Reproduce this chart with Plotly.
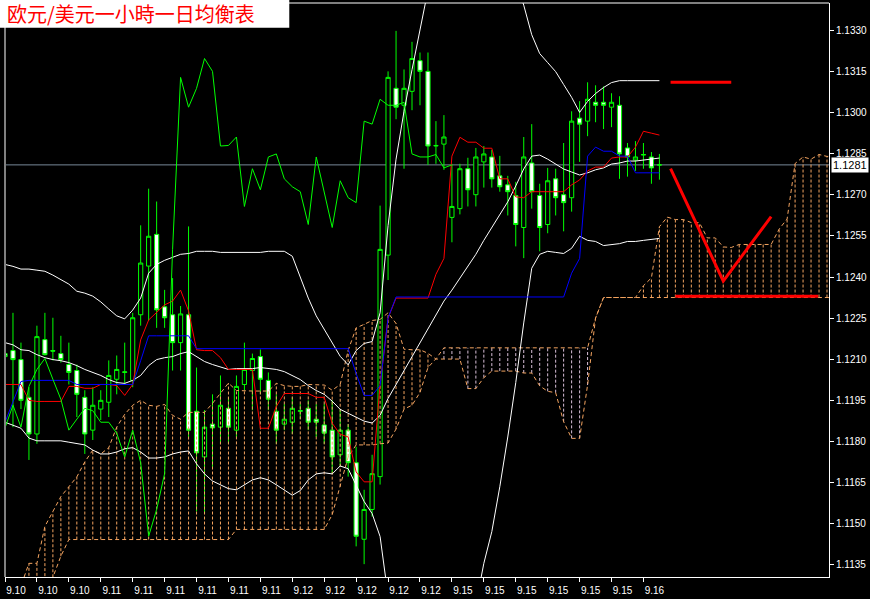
import plotly.graph_objects as go

# ---------------- data (EUR/USD, 1 hour bars) ----------------
open_ = [1.12120,1.12131,1.12098,1.11960,1.11826,1.12171,1.12131,1.12120,1.12080,1.12058,
 1.11960,1.11840,1.11917,1.11942,1.12026,1.12051,1.12022,1.12262,1.12440,1.12556,
 1.12291,1.12262,1.12160,1.12262,1.11909,1.11742,1.11862,1.11851,1.11920,1.11840,
 1.12007,1.12058,1.12109,1.12022,1.11909,1.11862,1.11869,1.11909,1.11920,1.11880,
 1.11859,1.11840,1.11750,1.11840,1.11721,1.11441,1.11550,1.11670,1.12480,1.13090,
 1.13028,1.13079,1.13191,1.13152,1.12879,1.12886,1.12618,1.12650,1.12796,1.12701,
 1.12821,1.12839,1.12770,1.12737,1.12698,1.12581,1.12817,1.12698,1.12592,1.12759,
 1.12701,1.12690,1.12981,1.12970,1.13039,1.13039,1.13021,1.13028,1.12872,1.12828,
 1.12846,1.12839,1.12810]
high = [1.12251,1.12269,1.12160,1.11997,1.12222,1.12269,1.12251,1.12185,1.12160,1.12080,
 1.11986,1.11997,1.11986,1.12095,1.12113,1.12160,1.12269,1.12589,1.12723,1.12676,
 1.12353,1.12396,1.12294,1.12585,1.12069,1.11913,1.11971,1.12040,1.11960,1.12040,
 1.12160,1.12120,1.12135,1.12051,1.11971,1.11935,1.11960,1.11935,1.11949,1.11935,
 1.11935,1.11949,1.11917,1.11862,1.11779,1.11622,1.11750,1.12661,1.13152,1.13300,
 1.13159,1.13260,1.13221,1.13221,1.12970,1.12992,1.12814,1.12814,1.12836,1.12872,
 1.12879,1.12865,1.12843,1.12770,1.12748,1.12912,1.12959,1.12741,1.12799,1.12796,
 1.12890,1.13006,1.13043,1.13112,1.13101,1.13097,1.13072,1.13061,1.12890,1.12897,
 1.12890,1.12857,1.12850]
low = [1.11888,1.11851,1.11917,1.11731,1.11790,1.12113,1.12095,1.12087,1.12007,1.11888,
 1.11753,1.11804,1.11877,1.11888,1.11971,1.12007,1.11997,1.12222,1.12240,1.12214,
 1.12214,1.12058,1.12058,1.11815,1.11543,1.11535,1.11699,1.11790,1.11790,1.11815,
 1.11986,1.11913,1.11971,1.11913,1.11790,1.11840,1.11826,1.11880,1.11840,1.11815,
 1.11790,1.11681,1.11706,1.11670,1.11415,1.11350,1.11524,1.11641,1.12389,1.12977,
 1.12796,1.13010,1.13028,1.12810,1.12814,1.12792,1.12527,1.12629,1.12658,1.12658,
 1.12727,1.12727,1.12712,1.12625,1.12512,1.12469,1.12650,1.12494,1.12560,1.12625,
 1.12567,1.12639,1.12821,1.12915,1.12966,1.12941,1.12948,1.12759,1.12767,1.12788,
 1.12796,1.12741,1.12756]
close = [1.12109,1.12098,1.11949,1.11826,1.12182,1.12116,1.12129,1.12098,1.12051,1.11971,
 1.11826,1.11931,1.11949,1.12040,1.12062,1.12053,1.12251,1.12451,1.12549,1.12280,
 1.12251,1.12160,1.12265,1.11840,1.11757,1.11851,1.11848,1.11931,1.11851,1.12000,
 1.12062,1.12102,1.12026,1.11953,1.11840,1.11880,1.11920,1.11911,1.11869,1.11869,
 1.11829,1.11742,1.11840,1.11721,1.11452,1.11550,1.11681,1.12501,1.13130,1.13021,
 1.13090,1.13199,1.13152,1.12879,1.12881,1.12912,1.12658,1.12796,1.12719,1.12839,
 1.12850,1.12759,1.12730,1.12712,1.12592,1.12839,1.12712,1.12581,1.12752,1.12690,
 1.12672,1.12970,1.12959,1.13050,1.13028,1.13028,1.13039,1.12850,1.12839,1.12839,
 1.12848,1.12799,1.12810]

tenkan = [1.12007,1.12007,1.12007,1.11949,1.11945,1.11945,1.11945,1.11945,1.12000,1.12000,
 1.11993,1.11993,1.12007,1.12007,1.12003,1.11967,1.12007,1.12170,1.12243,1.12269,
 1.12298,1.12312,1.12352,1.12276,1.12134,1.12131,1.12131,1.12105,1.12062,1.12062,
 1.12062,1.12062,1.11847,1.11847,1.11927,1.11974,1.11974,1.11974,1.11974,1.11960,
 1.11960,1.11865,1.11825,1.11815,1.11687,1.11651,1.11651,1.12007,1.12250,1.12323,
 1.12323,1.12323,1.12323,1.12323,1.12410,1.12468,1.12842,1.12911,1.12893,1.12893,
 1.12871,1.12871,1.12759,1.12759,1.12693,1.12690,1.12712,1.12712,1.12712,1.12712,
 1.12712,1.12737,1.12755,1.12788,1.12802,1.12802,1.12835,1.12839,1.12839,1.12875,
 1.12933,1.12926,1.12919]

kijun = [1.11869,1.11942,1.12018,1.12022,1.12022,1.12022,1.12022,1.12022,1.12022,1.12007,
 1.12007,1.12007,1.12007,1.12007,1.12007,1.12007,1.12007,1.12094,1.12185,1.12185,
 1.12185,1.12185,1.12185,1.12185,1.12138,1.12138,1.12138,1.12138,1.12138,1.12138,
 1.12138,1.12138,1.12138,1.12138,1.12138,1.12138,1.12138,1.12138,1.12138,1.12138,
 1.12138,1.12138,1.12138,1.12138,1.12047,1.11967,1.11967,1.12003,1.12250,1.12327,
 1.12327,1.12327,1.12327,1.12327,1.12327,1.12327,1.12327,1.12327,1.12327,1.12327,
 1.12327,1.12327,1.12327,1.12327,1.12327,1.12327,1.12327,1.12327,1.12327,1.12327,
 1.12327,1.12414,1.12468,1.12842,1.12875,1.12860,1.12860,1.12842,1.12842,1.12781,
 1.12781,1.12781,1.12781]

senkou_a = [1.11197,1.11233,1.11270,1.11353,1.11353,1.11488,1.11542,1.11597,1.11633,1.11669,
 1.11724,1.11767,1.11753,1.11776,1.11851,1.11898,1.11931,1.11949,1.11931,1.11927,
 1.11934,1.11894,1.11880,1.11905,1.11905,1.11905,1.11938,1.11974,1.12012,1.11985,
 1.11983,1.11983,1.11983,1.11983,1.12011,1.12003,1.12000,1.12000,1.12007,1.12007,
 1.12005,1.11986,1.12007,1.12132,1.12214,1.12227,1.12241,1.12245,1.12269,1.12230,
 1.12136,1.12134,1.12134,1.12121,1.12100,1.12100,1.12100,1.12100,1.11992,1.11992,
 1.12032,1.12056,1.12056,1.12056,1.12056,1.12049,1.12049,1.12002,1.11982,1.11977,
 1.11871,1.11810,1.11810,1.12005,1.12250,1.12325,1.12325,1.12325,1.12325,1.12325,
 1.12368,1.12397,1.12584,1.12619,1.12610,1.12610,1.12599,1.12599,1.12543,1.12543,
 1.12510,1.12508,1.12519,1.12519,1.12519,1.12519,1.12519,1.12575,1.12612,1.12815,
 1.12839,1.12831,1.12848,1.12841,1.12841,1.12828,1.12857,1.12853,1.12850]

senkou_b = ([1.11161] * 5 + [1.11233, 1.11302, 1.11379] + [1.11440] * 21 + [1.11477] * 12
            + [1.11531, 1.11633, 1.11742, 1.11786, 1.11786, 1.11786, 1.11790, 1.11793,
               1.11844, 1.11917, 1.11931, 1.11978, 1.12069, 1.12101]
            + [1.12141] * 19 + [1.12250] + [1.12325] * 34)

bb_upper = [1.12446,1.12439,1.12429,1.12429,1.12425,1.12421,1.12407,1.12392,1.12374,1.12348,
 1.12341,1.12330,1.12309,1.12283,1.12258,1.12247,1.12279,1.12323,1.12414,1.12446,
 1.12461,1.12472,1.12483,1.12486,1.12494,1.12494,1.12494,1.12490,1.12490,1.12490,
 1.12490,1.12490,1.12490,1.12494,1.12494,1.12494,1.12476,1.12396,1.12323,1.12258,
 1.12207,1.12160,1.12110,1.12079,1.12131,1.12157,1.12164,1.12269,1.12588,1.12831,
 1.13006,1.13158,1.13296,1.13449,1.13558,1.13630,1.13703,1.13740,1.13758,1.13758,
 1.13740,1.13703,1.13649,1.13576,1.13485,1.13394,1.13286,1.13217,1.13184,1.13151,
 1.13104,1.13057,1.13002,1.13042,1.13071,1.13093,1.13111,1.13118,1.13118,1.13118,
 1.13118,1.13118,1.13118]
bb_mid = [1.12160,1.12152,1.12134,1.12131,1.12116,1.12105,1.12098,1.12094,1.12087,1.12076,
 1.12062,1.12051,1.12040,1.12025,1.12014,1.12011,1.12022,1.12040,1.12076,1.12098,
 1.12105,1.12109,1.12120,1.12127,1.12109,1.12091,1.12080,1.12072,1.12062,1.12065,
 1.12065,1.12065,1.12069,1.12065,1.12062,1.12054,1.12040,1.12025,1.12003,1.11985,
 1.11971,1.11946,1.11916,1.11901,1.11887,1.11873,1.11866,1.11894,1.11956,1.12007,
 1.12058,1.12110,1.12164,1.12210,1.12261,1.12312,1.12352,1.12396,1.12439,1.12483,
 1.12534,1.12581,1.12628,1.12675,1.12733,1.12795,1.12842,1.12846,1.12831,1.12813,
 1.12795,1.12784,1.12773,1.12781,1.12792,1.12799,1.12813,1.12817,1.12824,1.12824,
 1.12828,1.12831,1.12835]
bb_lower = [1.11869,1.11858,1.11847,1.11811,1.11801,1.11801,1.11801,1.11801,1.11796,1.11790,
 1.11786,1.11767,1.11753,1.11753,1.11760,1.11772,1.11776,1.11760,1.11738,1.11738,
 1.11742,1.11753,1.11760,1.11764,1.11717,1.11680,1.11654,1.11640,1.11626,1.11622,
 1.11640,1.11658,1.11666,1.11658,1.11640,1.11622,1.11602,1.11619,1.11658,1.11680,
 1.11684,1.11680,1.11709,1.11699,1.11640,1.11579,1.11535,1.11451,1.11233,1.11088,
 1.10979,1.10870,1.10798,1.10743,1.10725,1.10743,1.10798,1.10906,1.11052,1.11197,
 1.11353,1.11469,1.11633,1.11815,1.12014,1.12232,1.12432,1.12483,1.12494,1.12490,
 1.12486,1.12505,1.12549,1.12534,1.12530,1.12515,1.12519,1.12522,1.12530,1.12530,
 1.12534,1.12537,1.12541]

chikou_shift = 26
tick_bars = list(range(0, 81, 4))
tick_labels = ["9.10", "9.10", "9.10", "9.11", "9.11", "9.11", "9.11", "9.11", "9.11",
               "9.12", "9.12", "9.12", "9.12", "9.12", "9.15", "9.15", "9.15", "9.15",
               "9.15", "9.15", "9.16"]
title_text = "欧元/美元一小時一日均衡表"

# hand-drawn analysis lines (bar position, price)
drawn_top_x = [83.4, 91.0]
drawn_top_y = [1.13112, 1.13112]
drawn_v_x = [83.4, 90.0, 96.0]
drawn_v_y = [1.12796, 1.12385, 1.12621]
drawn_base_x = [84.0, 101.9]
drawn_base_y = [1.12330, 1.12330]

# ---------------- figure ----------------
bars = list(range(len(close)))
LIME = "#00FF00"
SANDY = "#F4A460"
THISTLE = "#D8BFD8"

fig = go.Figure()

fig.add_trace(go.Candlestick(
    x=bars, open=open_, high=high, low=low, close=close,
    increasing=dict(line=dict(color=LIME, width=1), fillcolor="black"),
    decreasing=dict(line=dict(color=LIME, width=1), fillcolor="white"),
    whiskerwidth=0, hoverinfo="skip"))

# Kumo hatch
up_x, up_y, dn_x, dn_y = [], [], [], []
for i, (a, b) in enumerate(zip(senkou_a, senkou_b)):
    if a >= b:
        up_x += [i, i, None]; up_y += [b, a, None]
    else:
        dn_x += [i, i, None]; dn_y += [a, b, None]
fig.add_trace(go.Scatter(x=up_x, y=up_y, mode="lines",
                         line=dict(color=SANDY, width=1, dash="3px,2px")))
fig.add_trace(go.Scatter(x=dn_x, y=dn_y, mode="lines",
                         line=dict(color=THISTLE, width=1, dash="3px,2px")))

kumo_x = list(range(len(senkou_a)))
fig.add_trace(go.Scatter(x=kumo_x, y=senkou_a, mode="lines",
                         line=dict(color=SANDY, width=1, dash="4px,3px")))
fig.add_trace(go.Scatter(x=kumo_x, y=senkou_b, mode="lines",
                         line=dict(color=SANDY, width=1, dash="4px,3px")))

# Bollinger bands
for band in (bb_upper, bb_mid, bb_lower):
    fig.add_trace(go.Scatter(x=bars, y=band, mode="lines",
                             line=dict(color="white", width=1)))

# Tenkan / Kijun / Chikou
fig.add_trace(go.Scatter(x=bars, y=tenkan, mode="lines", line=dict(color="#FF0000", width=1)))
fig.add_trace(go.Scatter(x=bars, y=kijun, mode="lines", line=dict(color="#0000FF", width=1)))
chik_x = [b - chikou_shift for b in bars[chikou_shift:]]
fig.add_trace(go.Scatter(x=chik_x, y=close[chikou_shift:], mode="lines",
                         line=dict(color=LIME, width=1)))

# hand-drawn red lines
for dx, dy in ((drawn_top_x, drawn_top_y), (drawn_v_x, drawn_v_y), (drawn_base_x, drawn_base_y)):
    fig.add_trace(go.Scatter(x=dx, y=dy, mode="lines", line=dict(color="#FF0000", width=3)))

last = close[-1]
shapes = [
    dict(type="line", xref="paper", yref="y", x0=0, x1=1, y0=last, y1=last,
         line=dict(color="#778899", width=1), layer="below"),
    dict(type="line", xref="paper", yref="paper", x0=0, x1=1, y0=1, y1=1,
         line=dict(color="white", width=1)),
    dict(type="line", xref="paper", yref="paper", x0=0, x1=0, y0=0, y1=1,
         line=dict(color="#808080", width=2)),
    dict(type="rect", xref="paper", yref="paper", x0=-0.0061, x1=0.345, y0=0.9567, y1=1.0052,
         fillcolor="white", line=dict(width=0)),
]

annotations = [
    dict(xref="paper", yref="paper", x=0.0, y=0.981, xanchor="left", yanchor="middle",
         text=title_text, showarrow=False,
         font=dict(family="Noto Sans CJK SC", size=20, color="#FF0000")),
    dict(xref="paper", yref="y", x=1, y=last, xanchor="left", yanchor="middle", xshift=2,
         text=f"{last:.4f}", showarrow=False, bgcolor="white", borderpad=1,
         font=dict(family="Liberation Sans", size=11, color="black")),
]

axis_font = dict(family="Liberation Sans", size=10, color="white")
fig.update_layout(
    width=870, height=599,
    margin=dict(l=5, r=39, t=3, b=18),
    paper_bgcolor="black", plot_bgcolor="black",
    showlegend=False, hovermode=False, boxgap=0.25,
    shapes=shapes, annotations=annotations,
    xaxis=dict(range=[0, 103.25], showgrid=False, zeroline=False,
               tickmode="array", tickvals=tick_bars, ticktext=tick_labels,
               ticks="outside", ticklen=4, tickcolor="white", tickfont=axis_font,
               ticklabelshift=11, showline=True, linecolor="white", linewidth=1,
               rangeslider=dict(visible=False), fixedrange=True),
    yaxis=dict(side="right", range=[1.11303, 1.13402], showgrid=False, zeroline=False,
               tickmode="linear", tick0=1.1135, dtick=0.0015, tickformat=".4f",
               ticks="outside", ticklen=4, tickcolor="white", tickfont=axis_font,
               showline=True, linecolor="white", linewidth=1, fixedrange=True),
)

fig.write_html("out.html", config={"displayModeBar": False},
               post_script="document.body.style.margin='0px';document.body.style.background='black';")
